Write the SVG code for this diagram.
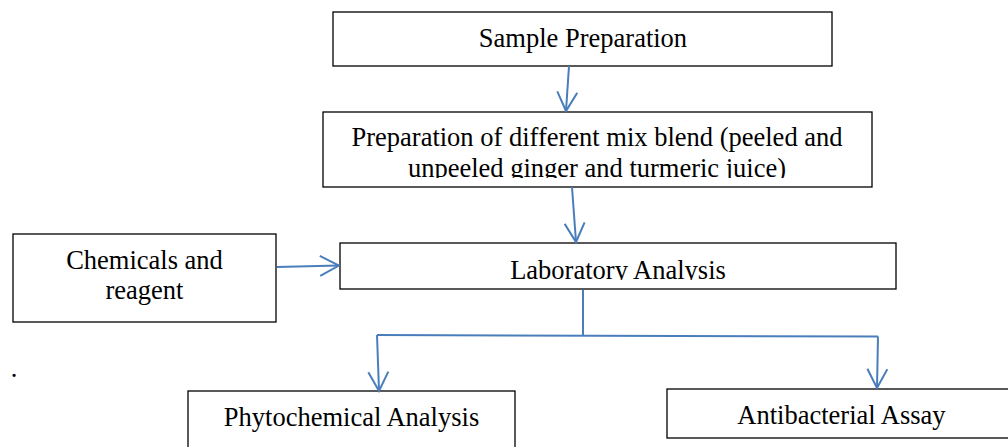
<svg xmlns="http://www.w3.org/2000/svg" width="1008" height="447" viewBox="0 0 1008 447">
<style>
.box{fill:#fff;stroke:#000;stroke-width:1.3}
.t{font-family:"Liberation Serif","Times New Roman",serif;font-size:26.5px;fill:#000;text-anchor:middle}
.c{fill:none;stroke:#4a7ebb;stroke-width:2}
</style>
<defs>
<marker id="ah" viewBox="0 0 22 22" refX="20" refY="11" markerWidth="22" markerHeight="22" markerUnits="userSpaceOnUse" orient="auto">
<path d="M1,1 L20,11 L1,21" fill="none" stroke="#4a7ebb" stroke-width="2"/>
</marker>
<clipPath id="clip2"><rect x="323" y="112" width="549" height="66"/></clipPath>
<clipPath id="clip3"><rect x="340" y="243" width="556" height="37"/></clipPath>
</defs>
<rect width="1008" height="447" fill="#fff"/>
<g id="sample">
<rect class="box" x="333" y="12" width="499" height="54"/>
<text class="t" x="583" y="47">Sample Preparation</text>
</g>
<g id="blend">
<rect class="box" x="323" y="112" width="549" height="75"/>
<g clip-path="url(#clip2)">
<text class="t" x="597" y="146">Preparation of different mix blend (peeled and</text>
<text class="t" x="597" y="177">unpeeled ginger and turmeric juice)</text>
</g>
</g>
<g id="chemicals">
<rect class="box" x="13" y="234" width="263" height="88"/>
<text class="t" x="144.5" y="269">Chemicals and</text>
<text class="t" x="144.5" y="299">reagent</text>
</g>
<g id="lab">
<rect class="box" x="340" y="243" width="556" height="46"/>
<g clip-path="url(#clip3)">
<text class="t" x="618" y="279">Laboratory Analysis</text>
</g>
</g>
<g id="phyto">
<rect class="box" x="188" y="391" width="327" height="70"/>
<text class="t" x="351.5" y="426">Phytochemical Analysis</text>
</g>
<g id="antibac">
<rect class="box" x="667" y="389" width="349" height="49"/>
<text class="t" x="841.5" y="424">Antibacterial Assay</text>
</g>
<text id="dot" class="t" x="14" y="377">.</text>
<g id="connectors">
<path class="c" d="M569,66 L566,111" marker-end="url(#ah)"/>
<path class="c" d="M572,187 L576,242" marker-end="url(#ah)"/>
<path class="c" d="M277,267 L339,265.5" marker-end="url(#ah)"/>
<path class="c" d="M583,290 V335.5"/>
<path class="c" d="M377,335 L878,336.5"/>
<path class="c" d="M377,335 L379,391" marker-end="url(#ah)"/>
<path class="c" d="M878,336.5 L877,388" marker-end="url(#ah)"/>
</g>
</svg>
